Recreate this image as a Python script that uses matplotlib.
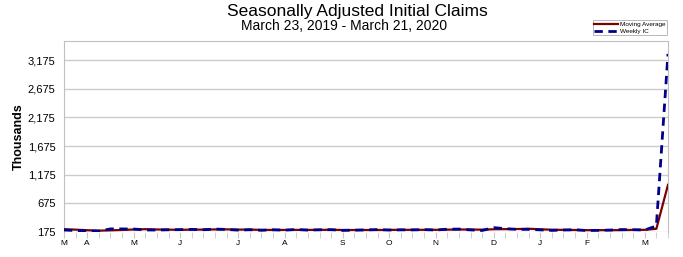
import numpy as np
import matplotlib
matplotlib.use("Agg")
import matplotlib.pyplot as plt
from matplotlib.ticker import FuncFormatter

plt.rcParams['font.family'] = ['Liberation Sans', 'DejaVu Sans']

# weekly seasonally adjusted initial claims (thousands), Mar 23 2019 - Mar 21 2020
weekly_ic = [211, 202, 196, 192, 230, 230, 228, 212, 211, 215,
             218, 222, 216, 227, 221, 209, 216, 206, 215, 209,
             220, 209, 215, 217, 204, 208, 213, 219, 210, 214,
             213, 218, 211, 225, 227, 213, 203, 252, 235, 222,
             222, 214, 204, 211, 216, 202, 205, 210, 219, 216,
             211, 282, 3283]
moving_avg = [225, 217, 207, 200, 205, 212, 220, 225, 220, 217,
              214, 217, 218, 221, 222, 218, 218, 213, 212, 212,
              213, 213, 213, 215, 211, 211, 211, 211, 213, 214,
              214, 214, 214, 217, 220, 219, 217, 224, 226, 228,
              233, 223, 216, 213, 211, 208, 209, 208, 209, 213,
              214, 232, 998]
# first week of each month label
month_weeks = [0, 2, 6, 10, 15, 19, 24, 28, 32, 37, 41, 45, 50]
month_labels = ['M', 'A', 'M', 'J', 'J', 'A', 'S', 'O', 'N', 'D', 'J', 'F', 'M']
y_ticks = [175, 675, 1175, 1675, 2175, 2675, 3175]

weeks = np.arange(len(weekly_ic))

fig = plt.figure(figsize=(6.83, 2.57), dpi=100)
ax = fig.add_axes([0.0937, 0.097, 0.8843, 0.743])

ax.plot(weeks, moving_avg, color='#7b0000', lw=1.6, label='Moving Average', zorder=3)
ax.plot(weeks, weekly_ic, color='#00008b', lw=2.0, ls=(0, (3, 2)), label='Weekly IC', zorder=4)

ax.set_xlim(0, 52)
ax.set_ylim(175, 3506)
ax.set_yticks(y_ticks)
ax.yaxis.set_major_formatter(FuncFormatter(lambda v, p: f'{int(v):,}'))
ax.grid(axis='y', color='#cccccc', lw=1)
ax.set_axisbelow(True)

ax.set_xticks(weeks, minor=True)
ax.set_xticks(month_weeks)
ax.set_xticklabels(month_labels, fontsize=6)
ax.tick_params(axis='x', which='both', length=4, color='#c8c8c8', pad=2)
ax.tick_params(axis='y', length=0, labelsize=8, pad=6)

for s in ax.spines.values():
    s.set_color('#c0c0c0')
ax.spines['bottom'].set_visible(False)

ax.set_ylabel('Thousands', fontsize=9, fontweight='bold', labelpad=2)

fig.text(0.523, 0.955, 'Seasonally Adjusted Initial Claims', ha='center', va='center', fontsize=12.5)
fig.text(0.504, 0.9, 'March 23, 2019 - March 21, 2020', ha='center', va='center', fontsize=10)

leg = ax.legend(loc='lower right', bbox_to_anchor=(0.998, 1.03), fontsize=4.6, frameon=True,
                fancybox=False, edgecolor='#999999', handlelength=3.8, borderpad=0.25,
                labelspacing=0.2, handletextpad=0.2, borderaxespad=0)
leg.get_frame().set_linewidth(0.6)

fig.savefig('out.png', dpi=100)
